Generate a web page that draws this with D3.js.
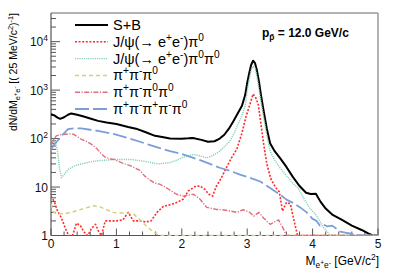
<!DOCTYPE html>
<html>
<head>
<meta charset="utf-8">
<script src="https://cdn.jsdelivr.net/npm/d3@7"></script>
<style>
  html, body { margin: 0; padding: 0; background: #fff; }
  svg { display: block; }
  text { font-family: "Liberation Sans", Arial, Helvetica, sans-serif; }
</style>
</head>
<body>
<svg id="chart" width="399" height="272"></svg>
<script>
// ---- data ----
const sbX = [0, 0.05, 0.1, 0.14, 0.2, 0.26, 0.31, 0.4, 0.5, 0.6, 0.72, 0.85, 1.0, 1.18, 1.3, 1.45, 1.59, 1.7, 1.82, 2.0, 2.1, 2.17, 2.3, 2.4, 2.5, 2.58, 2.65, 2.72, 2.78, 2.85, 2.92, 2.97, 3.0, 3.03, 3.06, 3.09, 3.12, 3.15, 3.18, 3.21, 3.25, 3.3, 3.35, 3.42, 3.5, 3.6, 3.7, 3.8, 3.9, 3.97, 4.05, 4.12, 4.2, 4.3, 4.45, 4.6, 4.75, 4.85, 4.92, 5.0];
const sbY = [320, 300, 270, 255, 275, 310, 330, 310, 285, 260, 232, 215, 200, 174, 160, 135, 114, 108, 100, 99, 101, 103, 94, 86, 88, 100, 120, 160, 218, 320, 475, 800, 1400, 2200, 3300, 4050, 3600, 2500, 1500, 800, 380, 160, 80, 55, 40, 26, 16, 10.5, 7.6, 7.2, 7.3, 5, 3.6, 2.7, 2.1, 1.6, 1.3, 1.1, 1.0, 1.0];

const jpX = [0, 0.05, 0.1, 0.16, 0.22, 0.27, 0.33, 0.39, 0.45, 0.5, 0.56, 0.62, 0.68, 0.73, 0.77, 0.83, 0.9, 1.0, 1.1, 1.18, 1.26, 1.35, 1.45, 1.53, 1.62, 1.72, 1.85, 1.95, 2.02, 2.1, 2.2, 2.28, 2.35, 2.42, 2.47, 2.53, 2.6, 2.68, 2.76, 2.84, 2.92, 2.98, 3.04, 3.09, 3.13, 3.17, 3.21, 3.25, 3.3, 3.36, 3.43, 3.49, 3.54, 3.6, 3.66, 3.71, 3.77, 5.0];
const jpY = [6.5, 5, 3.2, 2.3, 1.4, 1.0, 1.0, 1.8, 1.6, 1.2, 1.0, 1.4, 1.7, 1.2, 1.0, 2.0, 2.0, 2.0, 2.1, 3.0, 2.0, 2.0, 1.9, 2.0, 3.0, 4.0, 4.4, 5.0, 5.6, 8.3, 10.2, 10.5, 9, 7, 6.5, 10.5, 15, 25, 40, 60, 130, 280, 500, 830, 700, 500, 200, 80, 30, 15, 10, 8, 3.2, 4.8, 4.5, 2.2, 1.0, 1.0];

const jppX = [0, 0.03, 0.07, 0.1, 0.13, 0.16, 0.2, 0.26, 0.35, 0.46, 0.6, 0.72, 0.85, 0.97, 1.1, 1.23, 1.36, 1.48, 1.64, 1.82, 1.95, 2.07, 2.18, 2.28, 2.38, 2.48, 2.58, 2.66, 2.74, 2.8, 2.86, 2.92, 2.97, 3.0, 3.03, 3.06, 3.09, 3.12, 3.15, 3.18, 3.21, 3.25, 3.3, 3.35, 3.42, 3.5, 3.6, 3.7, 3.78, 3.86, 3.96, 4.06, 4.16, 4.27, 5.0];
const jppY = [90, 97, 80, 55, 25, 15.6, 18, 23, 27, 30, 33, 35, 36, 37, 37, 37, 35, 33, 30, 32, 37, 44, 47, 44, 40, 45, 55, 70, 90, 130, 200, 300, 480, 950, 1650, 2600, 3100, 2850, 1900, 1050, 580, 280, 115, 55, 36, 25, 17, 12, 9.5, 6, 3.6, 2.6, 1.5, 1.0, 1.0];

const p3X = [0, 0.04, 0.1, 0.2, 0.34, 0.5, 0.65, 0.75, 0.85, 0.95, 1.06, 1.15, 1.26, 1.33, 1.41, 1.5, 1.56, 1.65, 5.0];
const p3Y = [4.4, 3.0, 2.8, 2.8, 3.1, 3.6, 4.1, 3.9, 3.4, 3.0, 2.9, 2.9, 2.8, 2.3, 1.8, 1.4, 1.2, 1.0, 1.0];

const p4X = [0, 0.04, 0.08, 0.14, 0.21, 0.28, 0.34, 0.4, 0.46, 0.54, 0.62, 0.7, 0.76, 0.82, 0.9, 0.97, 1.05, 1.13, 1.2, 1.28, 1.36, 1.43, 1.51, 1.59, 1.66, 1.72, 1.8, 1.92, 2.02, 2.1, 2.18, 2.28, 2.38, 2.46, 2.53, 2.62, 2.74, 2.84, 2.94, 3.04, 3.1, 3.18, 3.25, 3.35, 3.42, 3.48, 3.55, 3.6, 5.0];
const p4Y = [70, 95, 114, 120, 123, 125, 123, 110, 97, 88, 76, 62, 50, 42, 38, 37, 33, 30, 28, 25, 22, 17, 14, 12, 11.5, 10.5, 9, 7.1, 6.5, 6.8, 7.1, 5.6, 3.8, 3.6, 3.45, 3.4, 3.2, 3.0, 3.4, 3.0, 2.5, 3.0, 2.3, 1.7, 1.9, 2.1, 1.4, 1.0, 1.0];

const p5X = [0, 0.05, 0.1, 0.18, 0.26, 0.35, 0.46, 0.6, 0.72, 0.85, 0.97, 1.1, 1.23, 1.36, 1.48, 1.64, 1.82, 2.0, 2.13, 2.28, 2.43, 2.58, 2.74, 2.89, 3.04, 3.2, 3.35, 3.5, 3.6, 3.7, 3.81, 3.91, 4.0, 4.06, 4.11, 4.16, 4.22, 4.3, 4.36, 4.42, 4.5, 4.57, 4.65, 4.72, 5.0];
const p5Y = [60, 75, 90, 120, 156, 162, 162, 152, 144, 133, 123, 110, 97, 86, 76, 65, 55, 48, 42, 36, 30, 25, 21.5, 18, 15.6, 13, 9.5, 7, 5.5, 4.7, 3.8, 3.0, 2.2, 2.0, 1.6, 1.7, 1.55, 1.6, 1.4, 1.2, 1.15, 1.1, 1.05, 1.0, 1.0];

const xTicks = [0, 1, 2, 3, 4, 5];
const yTicks = [1, 10, 100, 1000, 10000];
const yTickLabels = [["1", ""], ["10", ""], ["10", "2"], ["10", "3"], ["10", "4"]];

// ---- layout ----
const svg = d3.select("#chart");
const L = 51, R = 378, T = 13, B = 235.5;
const x = d3.scaleLinear().domain([0, 5]).range([L, R]);
const y = d3.scaleLog().domain([1, 3.9e4]).range([B, T]);
const ymin = 1;

svg.append("defs").append("clipPath").attr("id", "clip")
  .append("rect").attr("x", L).attr("y", T).attr("width", R - L).attr("height", B - T + 0.5);

// ---- frame (drawn first so curves lying on the floor stay visible) ----
svg.append("line").attr("x1", L).attr("x2", R).attr("y1", T).attr("y2", T)
  .attr("stroke", "#9a9a9a").attr("stroke-width", 1.5);
svg.append("line").attr("x1", R).attr("x2", R).attr("y1", T).attr("y2", B)
  .attr("stroke", "#9a9a9a").attr("stroke-width", 1.5);
svg.append("line").attr("x1", L).attr("x2", R).attr("y1", B).attr("y2", B)
  .attr("stroke", "#555").attr("stroke-width", 1.2);
svg.append("line").attr("x1", L).attr("x2", L).attr("y1", T).attr("y2", B)
  .attr("stroke", "#555").attr("stroke-width", 1.2);

// x ticks
const gx = svg.append("g");
for (let i = 0; i <= 25; i++) {
  const v = i * 0.2;
  const major = i % 5 === 0;
  gx.append("line").attr("x1", x(v)).attr("x2", x(v))
    .attr("y1", B).attr("y2", B - (major ? 7 : 4))
    .attr("stroke", "#555").attr("stroke-width", 1);
}
xTicks.forEach(v => {
  gx.append("text").attr("x", x(v)).attr("y", B + 12.5)
    .attr("text-anchor", "middle").attr("font-size", 12).attr("fill", "#111").text(v);
});

// y ticks
const gy = svg.append("g");
for (let k = 0; k <= 4; k++) {
  for (let m = 1; m <= 9; m++) {
    const v = m * Math.pow(10, k);
    if (v > 3.9e4) continue;
    gy.append("line").attr("x1", L).attr("x2", L + (m === 1 ? 9 : 5))
      .attr("y1", y(v)).attr("y2", y(v))
      .attr("stroke", "#555").attr("stroke-width", 1);
  }
}
yTicks.forEach((v, i) => {
  const t = gy.append("text").attr("x", 48).attr("y", y(v) + 4.5)
    .attr("text-anchor", "end").attr("font-size", 12).attr("fill", "#111");
  t.append("tspan").text(yTickLabels[i][0]);
  if (yTickLabels[i][1]) {
    t.append("tspan").attr("dy", -5).attr("font-size", 8.5).text(yTickLabels[i][1]);
  }
});

const series = [
  { xs: sbX, ys: sbY, color: "#000000", width: 2, dash: null, label: [["S+B", 0]] },
  { xs: jpX, ys: jpY, color: "#ff2a2a", width: 1.6, dash: "2,1.6",
    label: [["J/ψ(→ e", 0], ["+", 1], ["e", 0], ["-", 1], [")π", 0], ["0", 1]] },
  { xs: jppX, ys: jppY, color: "#86cfb2", width: 1.4, dash: "1.2,1",
    label: [["J/ψ(→ e", 0], ["+", 1], ["e", 0], ["-", 1], [")π", 0], ["0", 1], ["π", 0], ["0", 1]] },
  { xs: p3X, ys: p3Y, color: "#d6cf74", width: 1.5, dash: "4,3",
    label: [["π", 0], ["+", 1], ["π", 0], ["-", 1], ["π", 0], ["0", 1]] },
  { xs: p4X, ys: p4Y, color: "#df6f7e", width: 1.4, dash: "5,1.5,1.2,1.5",
    label: [["π", 0], ["+", 1], ["π", 0], ["-", 1], ["π", 0], ["0", 1], ["π", 0], ["0", 1]] },
  { xs: p5X, ys: p5Y, color: "#7b9edb", width: 1.8, dash: "14,4",
    label: [["π", 0], ["+", 1], ["π", 0], ["-", 1], ["π", 0], ["+", 1], ["π", 0], ["-", 1], ["π", 0], ["0", 1]] }
];

const line = d3.line()
  .x(d => x(d[0]))
  .y(d => y(Math.max(ymin, d[1])))
  .curve(d3.curveLinear);

const plot = svg.append("g").attr("clip-path", "url(#clip)");
series.forEach(s => {
  const pts = s.xs.map((v, i) => [v, s.ys[i]]);
  plot.append("path")
    .attr("d", line(pts))
    .attr("fill", "none")
    .attr("stroke", s.color)
    .attr("stroke-width", s.width)
    .attr("stroke-dasharray", s.dash)
    .attr("stroke-linejoin", "round");
});

// rich text helper: parts [text, level]; 1 = superscript, -1 = subscript, -0.5 = sup inside sub
function rich(t, parts, base) {
  let prev = 0;
  const off = { "0": 0, "1": 0.42, "-1": -0.28, "-0.5": -0.02 };
  const sc = { "0": 1, "1": 0.7, "-1": 0.7, "-0.5": 0.55 };
  parts.forEach(([txt, lvl]) => {
    const sh = off[String(lvl)] * base;
    t.append("tspan").attr("dy", -(sh - prev)).attr("font-size", base * sc[String(lvl)]).text(txt);
    prev = sh;
  });
}

// legend
const lg = svg.append("g");
series.forEach((s, i) => {
  const yy = 25 + i * 16.8;
  lg.append("line").attr("x1", 75).attr("x2", 108).attr("y1", yy).attr("y2", yy)
    .attr("stroke", s.color).attr("stroke-width", s.width).attr("stroke-dasharray", s.dash);
  const t = lg.append("text").attr("x", 113).attr("y", yy + 5).attr("font-size", 14.5).attr("fill", "#000");
  rich(t, s.label, 14.5);
});

// annotation
const ann = svg.append("text").attr("x", 262).attr("y", 37).attr("font-size", 12)
  .attr("font-weight", "bold").attr("fill", "#000");
rich(ann, [["p", 0], ["p\u0304", -1], [" = 12.0 GeV/c", 0]], 12);

// x title
const xt = svg.append("text").attr("x", 379).attr("y", 265).attr("text-anchor", "end")
  .attr("font-size", 12).attr("fill", "#000");
rich(xt, [["M", 0], ["e", -1], ["+", -0.5], ["e", -1], ["-", -0.5], [" [GeV/c", 0], ["2", 1], ["]", 0]], 12);

// y title
const yt = svg.append("text").attr("transform", "translate(17,13) rotate(-90)")
  .attr("text-anchor", "end").attr("font-size", 10.5).attr("fill", "#000");
rich(yt, [["dN/dM", 0], ["e", -1], ["+", -0.5], ["e", -1], ["-", -0.5], [" [( 25 MeV/c", 0], ["2", 1], [")", 0], ["-1", 1], ["]", 0]], 10.5);
</script>
</body>
</html>
